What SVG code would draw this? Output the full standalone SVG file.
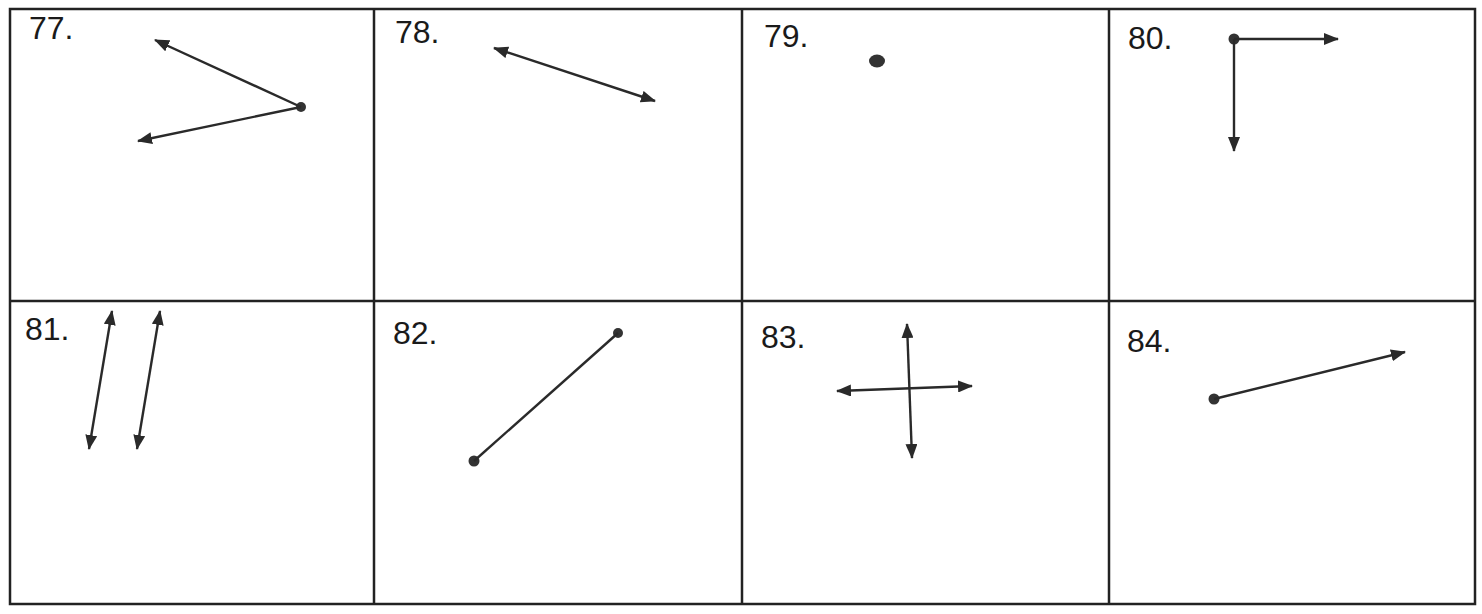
<svg xmlns="http://www.w3.org/2000/svg" width="1482" height="614" viewBox="0 0 1482 614">
<defs>
<style>
.grid{fill:none;stroke:#222;stroke-width:2.5}
.lbl{font-family:"Liberation Sans",Arial,sans-serif;font-size:32px;fill:#1a1a1a}
.ray{stroke:#2a2a2a;stroke-width:2.4;fill:none}
.pt{fill:#333}
</style>
<marker id="ah" viewBox="0 0 15 12" refX="14" refY="6" markerWidth="15" markerHeight="12" markerUnits="userSpaceOnUse" orient="auto-start-reverse">
<path d="M0,0 L15,6 L0,12 z" fill="#2a2a2a"/>
</marker>
</defs>
<rect width="1482" height="614" fill="#fff"/>
<g id="grid">
<rect class="grid" x="10" y="9" width="1465" height="595"/>
<line class="grid" x1="10" y1="301" x2="1475" y2="301"/>
<line class="grid" x1="374" y1="9" x2="374" y2="604"/>
<line class="grid" x1="742" y1="9" x2="742" y2="604"/>
<line class="grid" x1="1109" y1="9" x2="1109" y2="604"/>
</g>
<g id="cell77">
<text class="lbl" x="29" y="39">77.</text>
<circle class="pt" cx="301" cy="107" r="5"/>
</g>
<g id="cell78">
<text class="lbl" x="395" y="43">78.</text>
</g>
<g id="cell79">
<text class="lbl" x="764" y="47">79.</text>
<ellipse class="pt" cx="877" cy="61" rx="8" ry="6.5"/>
</g>
<g id="cell80">
<text class="lbl" x="1128" y="49">80.</text>
<circle class="pt" cx="1234" cy="39" r="5.5"/>
</g>
<g id="cell81">
<text class="lbl" x="25" y="340">81.</text>
</g>
<g id="cell82">
<text class="lbl" x="393" y="344">82.</text>
<circle class="pt" cx="618" cy="333" r="5"/>
<circle class="pt" cx="474" cy="461" r="5.5"/>
</g>
<g id="cell83">
<text class="lbl" x="761" y="348">83.</text>
</g>
<g id="cell84">
<text class="lbl" x="1127" y="352">84.</text>
<circle class="pt" cx="1214" cy="399" r="5.5"/>
</g>
<g id="connectors">
<line class="ray" x1="301" y1="107" x2="155" y2="40" marker-end="url(#ah)"/>
<line class="ray" x1="301" y1="107" x2="138" y2="141" marker-end="url(#ah)"/>
<line class="ray" x1="494" y1="48" x2="655" y2="101" marker-start="url(#ah)" marker-end="url(#ah)"/>
<line class="ray" x1="1234" y1="39" x2="1338" y2="39" marker-end="url(#ah)"/>
<line class="ray" x1="1234" y1="39" x2="1234" y2="151" marker-end="url(#ah)"/>
<line class="ray" x1="112" y1="311" x2="89" y2="449" marker-start="url(#ah)" marker-end="url(#ah)"/>
<line class="ray" x1="160" y1="311" x2="137" y2="449" marker-start="url(#ah)" marker-end="url(#ah)"/>
<line class="ray" x1="618" y1="333" x2="474" y2="461"/>
<line class="ray" x1="907" y1="324" x2="912" y2="458" marker-start="url(#ah)" marker-end="url(#ah)"/>
<line class="ray" x1="837" y1="391" x2="972" y2="386" marker-start="url(#ah)" marker-end="url(#ah)"/>
<line class="ray" x1="1214" y1="399" x2="1405" y2="352" marker-end="url(#ah)"/>
</g>
</svg>
